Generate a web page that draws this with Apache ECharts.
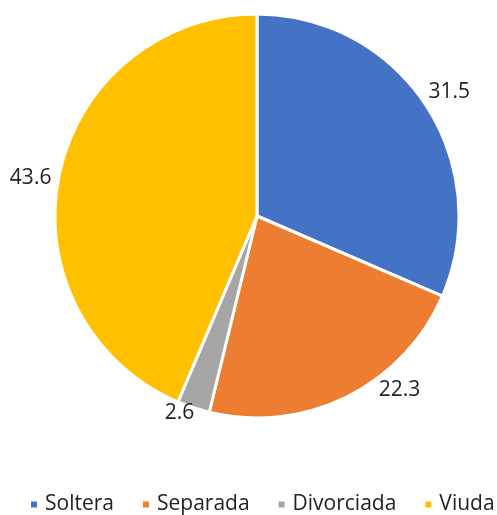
<!DOCTYPE html>
<html>
<head>
<meta charset="utf-8">
<script src="https://cdn.jsdelivr.net/npm/echarts@6/dist/echarts.min.js"></script>
<style>
  html, body { margin: 0; padding: 0; background: #fff; }
  #chart { width: 497px; height: 515px; }
</style>
</head>
<body>
<div id="chart"></div>
<script>
const categories = ['Soltera', 'Separada', 'Divorciada', 'Viuda']
const values = [31.5, 22.3, 2.6, 43.6]
const colors = ['#4472C4', '#ED7D31', '#A5A5A5', '#FFC000']

const chart = echarts.init(document.getElementById('chart'), null, { renderer: 'canvas' })

const data = categories.map((name, i) => ({ name, value: values[i], itemStyle: { color: colors[i] } }))

// nudges so labels sit where the Excel "best fit" put them
const labelNudge = [[0, 2], [40, -32], [-5, -21], [-1, 8]]

chart.setOption({
  animation: false,
  backgroundColor: '#fff',
  legend: {
    bottom: 0,
    left: 29,
    padding: 0,
    icon: 'rect',
    itemWidth: 8,
    itemHeight: 8,
    itemGap: 27,
    data: categories,
    textStyle: { fontFamily: 'Open Sans', fontSize: 21, color: '#222', padding: [0, 0, 0, 2] },
  },
  series: [
    {
      type: 'pie',
      center: [257, 216],
      radius: 202,
      startAngle: 90,
      clockwise: true,
      label: { show: false },
      labelLine: { show: false },
      itemStyle: { borderColor: '#fff', borderWidth: 3 },
      emphasis: { disabled: true },
      data,
    },
    {
      // transparent ring only used to place the value labels just outside the pie
      type: 'pie',
      center: [257, 216],
      radius: [210, 244],
      startAngle: 90,
      clockwise: true,
      silent: true,
      legendHoverLink: false,
      itemStyle: { color: 'transparent' },
      label: {
        show: true,
        position: 'inside',
        formatter: (p) => p.value.toFixed(1),
        fontFamily: 'Open Sans',
        fontSize: 21,
        color: '#222',
      },
      labelLine: { show: false },
      emphasis: { disabled: true },
      data: categories.map((name, i) => ({
        name: name + ' ',
        value: values[i],
        label: { offset: labelNudge[i] },
      })),
    },
  ],
})
</script>
</body>
</html>
